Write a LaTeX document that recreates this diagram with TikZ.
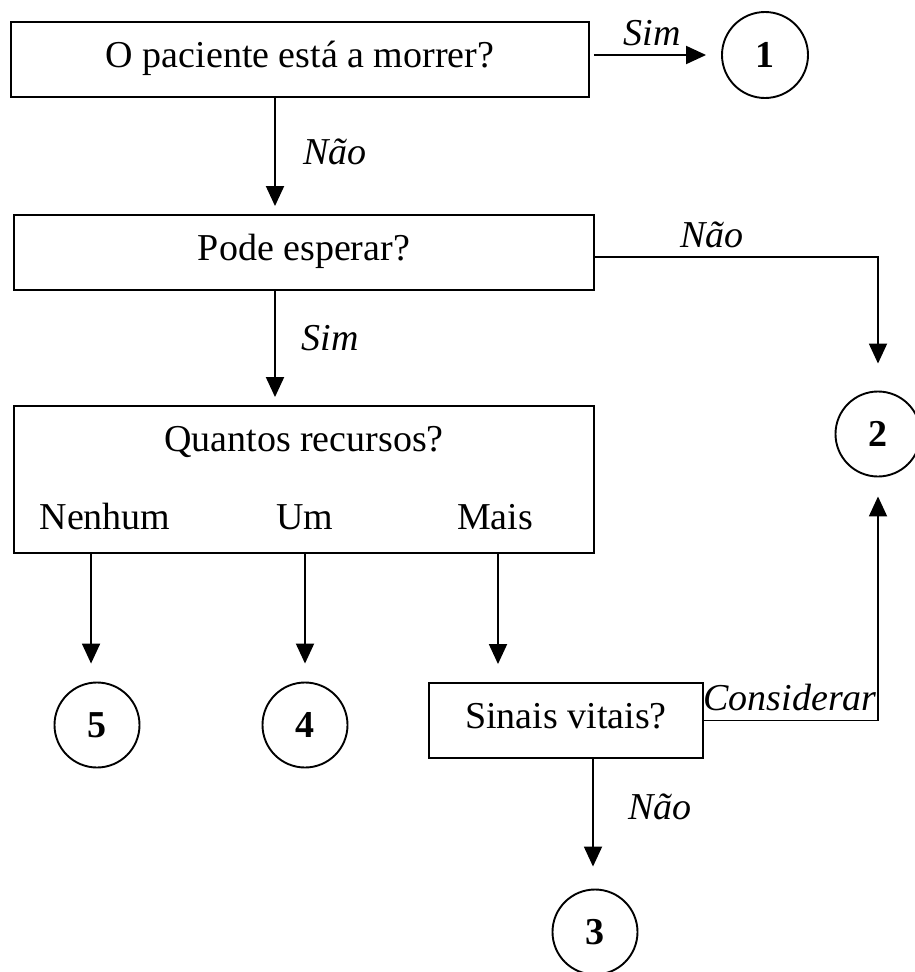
\documentclass[tikz,border=0pt]{standalone}
\usepackage{fontspec}
\setmainfont{Liberation Serif}
\usetikzlibrary{arrows.meta,calc}
\begin{document}
\begin{tikzpicture}[x=1pt,y=-1pt,
  every node/.style={font=\fontsize{38}{44}\selectfont},
  box/.style={draw,line width=1.9pt,rectangle,inner sep=0pt,text height=25pt,text depth=10pt},
  num/.style={draw,circle,line width=1.9pt,minimum size=85pt,inner sep=0pt,font=\fontsize{38}{44}\selectfont\bfseries},
  lab/.style={anchor=base,inner sep=0pt,font=\fontsize{38}{44}\selectfont\itshape},
  txt/.style={anchor=base,inner sep=0pt},
  arr/.style={line width=1.9pt,-{Triangle[length=20pt,width=18pt]}}]
\useasboundingbox (0,0) rectangle (915,972);

% boxes
\node[box,minimum width=578pt,minimum height=75pt] (b1) at (300,59.5) {O paciente está a morrer?};
\node[box,minimum width=580pt,minimum height=75pt] (b2) at (304,252.5) {Pode esperar?};
\node[box,minimum width=580pt,minimum height=147pt] (b3) at (304,479.5) {};
\node[box,minimum width=274pt,minimum height=75pt] (b4) at (566,720.5) {Sinais vitais?};

% texts in box 3
\node[txt] (q)  at (304,451) {Quantos recursos?};
\node[txt] (n0) at (105,529) {Nenhum};
\node[txt] (n1) at (305,529) {Um};
\node[txt] (n2) at (495,529) {Mais};

% circles
\node[num,minimum size=86pt] (c1) at (765,55) {1};
\node[num] (c2) at (878,434) {2};
\node[num] (c3) at (595,932) {3};
\node[num] (c4) at (305,725) {4};
\node[num] (c5) at (97,725) {5};

% connector start points
\coordinate (s1) at ($(b1.east)+(4,0)$);
\coordinate (s2) at ($(b1.south)+(-25,0)$);
\coordinate (s3) at ($(b2.south)+(-29,0)$);
\coordinate (s4) at ($(b2.east)+(0,4.5)$);
\coordinate (s5) at ($(b3.south west)+(78,0)$);
\coordinate (s6) at ($(b3.south)+(1,0)$);
\coordinate (s7) at ($(b3.south)+(194,0)$);
\coordinate (s8) at ($(b4.south)+(27,0)$);

% connectors
\draw[arr,shorten >=15pt] (s1 |- c1.center) -- (c1.west);
\draw[arr,shorten >=8pt] (s2) -- (s2 |- b2.north);
\draw[arr,shorten >=8pt] (s3) -- (s3 |- b3.north);
\draw[arr,shorten >=27pt] (s4) -| (c2.north);
\draw[arr,shorten >=18pt] (s5) -- (s5 |- c5.north);
\draw[arr,shorten >=18pt] (s6) -- (s6 |- c4.north);
\draw[arr,shorten >=18pt] (s7) -- (s7 |- b4.north);
\draw[arr,shorten >=22pt] (s8) -- (s8 |- c3.north);
\draw[arr,shorten >=19pt] (b4.east) -| (c2.south);

% labels
\node[lab] (l1) at (652,45) {Sim};
\node[lab] (l2) at (335,164) {Não};
\node[lab] (l3) at (712,247) {Não};
\node[lab] (l4) at (330,350) {Sim};
\node[lab] (l5) at (790,710) {Considerar};
\node[lab] (l6) at (660,819) {Não};
\end{tikzpicture}
\end{document}
